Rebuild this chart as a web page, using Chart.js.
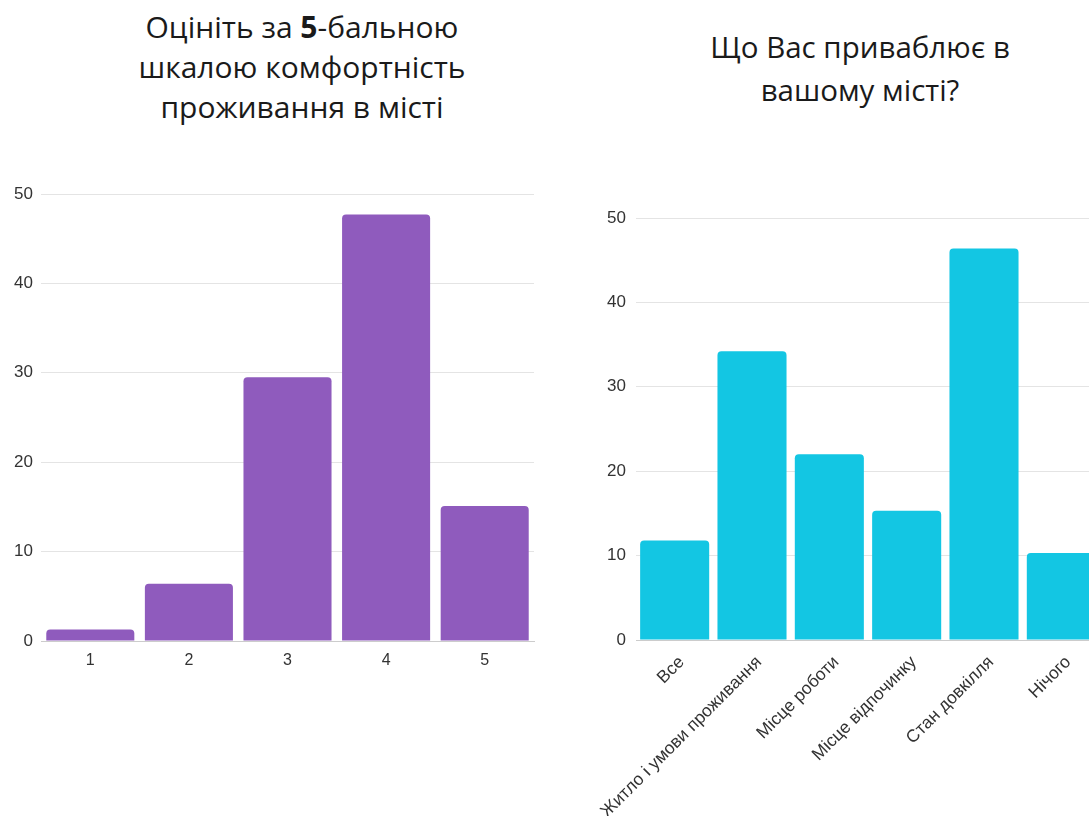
<!DOCTYPE html>
<html lang="uk">
<head>
<meta charset="utf-8">
<script src="https://cdn.jsdelivr.net/npm/chart.js@4"></script>
<style>
    html, body { margin: 0; padding: 0; width: 1089px; height: 816px; overflow: hidden; background: #fff; }
    .title { position: absolute; width: 500px; text-align: center; font-family: 'Open Sans', sans-serif; color: #1a1a1a; }
    .title b { font-weight: 700; }
    canvas { position: absolute; }
</style>
</head>
<body>
<div class="title" style="left:52px; top:7px; font-size:30px; line-height:40px;">Оцініть за <b>5</b>-бальною<br>шкалою комфортність<br>проживання в місті</div>
<div class="title" style="left:610px; top:25px; font-size:29.5px; line-height:43px;">Що Вас приваблює в<br>вашому місті?</div>
<canvas id="comfortChart" width="545" height="520" style="left:0; top:170px;"></canvas>
<canvas id="attractChart" width="530" height="640" style="left:590px; top:190px;"></canvas>
<script>
// data
const comfortLabels = ['1', '2', '3', '4', '5'];
const comfortValues = [1.3, 6.4, 29.5, 47.7, 15.1];

const attractLabels = ['Все', 'Житло і умови проживання', 'Місце роботи', 'Місце відпочинку', 'Стан довкілля', 'Нічого'];
const attractValues = [11.8, 34.2, 22.0, 15.3, 46.4, 10.3];

const yTicks = [0, 10, 20, 30, 40, 50];

Chart.defaults.font.family = "'Liberation Sans', Arial, sans-serif";
Chart.defaults.color = '#333';

function makeChart(id, labels, values, color, opts) {
    const ctx = document.getElementById(id).getContext('2d');
    return new Chart(ctx, {
        type: 'bar',
        data: {
            labels: labels,
            datasets: [{
                data: values,
                backgroundColor: color,
                borderRadius: 4,
                borderSkipped: 'start',
                categoryPercentage: 1,
                barPercentage: 0.893
            }]
        },
        options: {
            responsive: false,
            animation: false,
            devicePixelRatio: 1,
            layout: { autoPadding: false, padding: opts.padding },
            plugins: { legend: { display: false }, tooltip: { enabled: false } },
            scales: {
                x: {
                    grid: { display: false, drawTicks: false },
                    border: { display: true, color: '#cccccc', width: 1 },
                    ticks: {
                        font: { size: opts.xFont },
                        color: '#333',
                        padding: opts.xPad,
                        labelOffset: opts.xOffset,
                        minRotation: opts.rot,
                        maxRotation: opts.rot,
                        autoSkip: false
                    },
                    afterFit: s => { s.height = opts.xHeight; }
                },
                y: {
                    min: 0,
                    max: yTicks[yTicks.length - 1],
                    afterBuildTicks: s => { s.ticks = yTicks.map(v => ({ value: v })); },
                    grid: { color: '#e4e4e4', drawTicks: false },
                    border: { display: false },
                    ticks: { font: { size: 17 }, color: '#333', padding: opts.yPad },
                    afterFit: s => { s.width = opts.yWidth; }
                }
            }
        }
    });
}

makeChart('comfortChart', comfortLabels, comfortValues, '#8f5bbd', {
    padding: { top: 24, right: 11, bottom: 9, left: 0 },
    xHeight: 40, xPad: 10, xOffset: 0, xFont: 16, rot: 0, yPad: 8, yWidth: 41
});

makeChart('attractChart', attractLabels, attractValues, '#13c6e3', {
    padding: { top: 28, right: 20, bottom: 9, left: 0 },
    xHeight: 181, xPad: 12, xOffset: 7, xFont: 17.5, rot: 45, yPad: 10, yWidth: 46
});
</script>
</body>
</html>
